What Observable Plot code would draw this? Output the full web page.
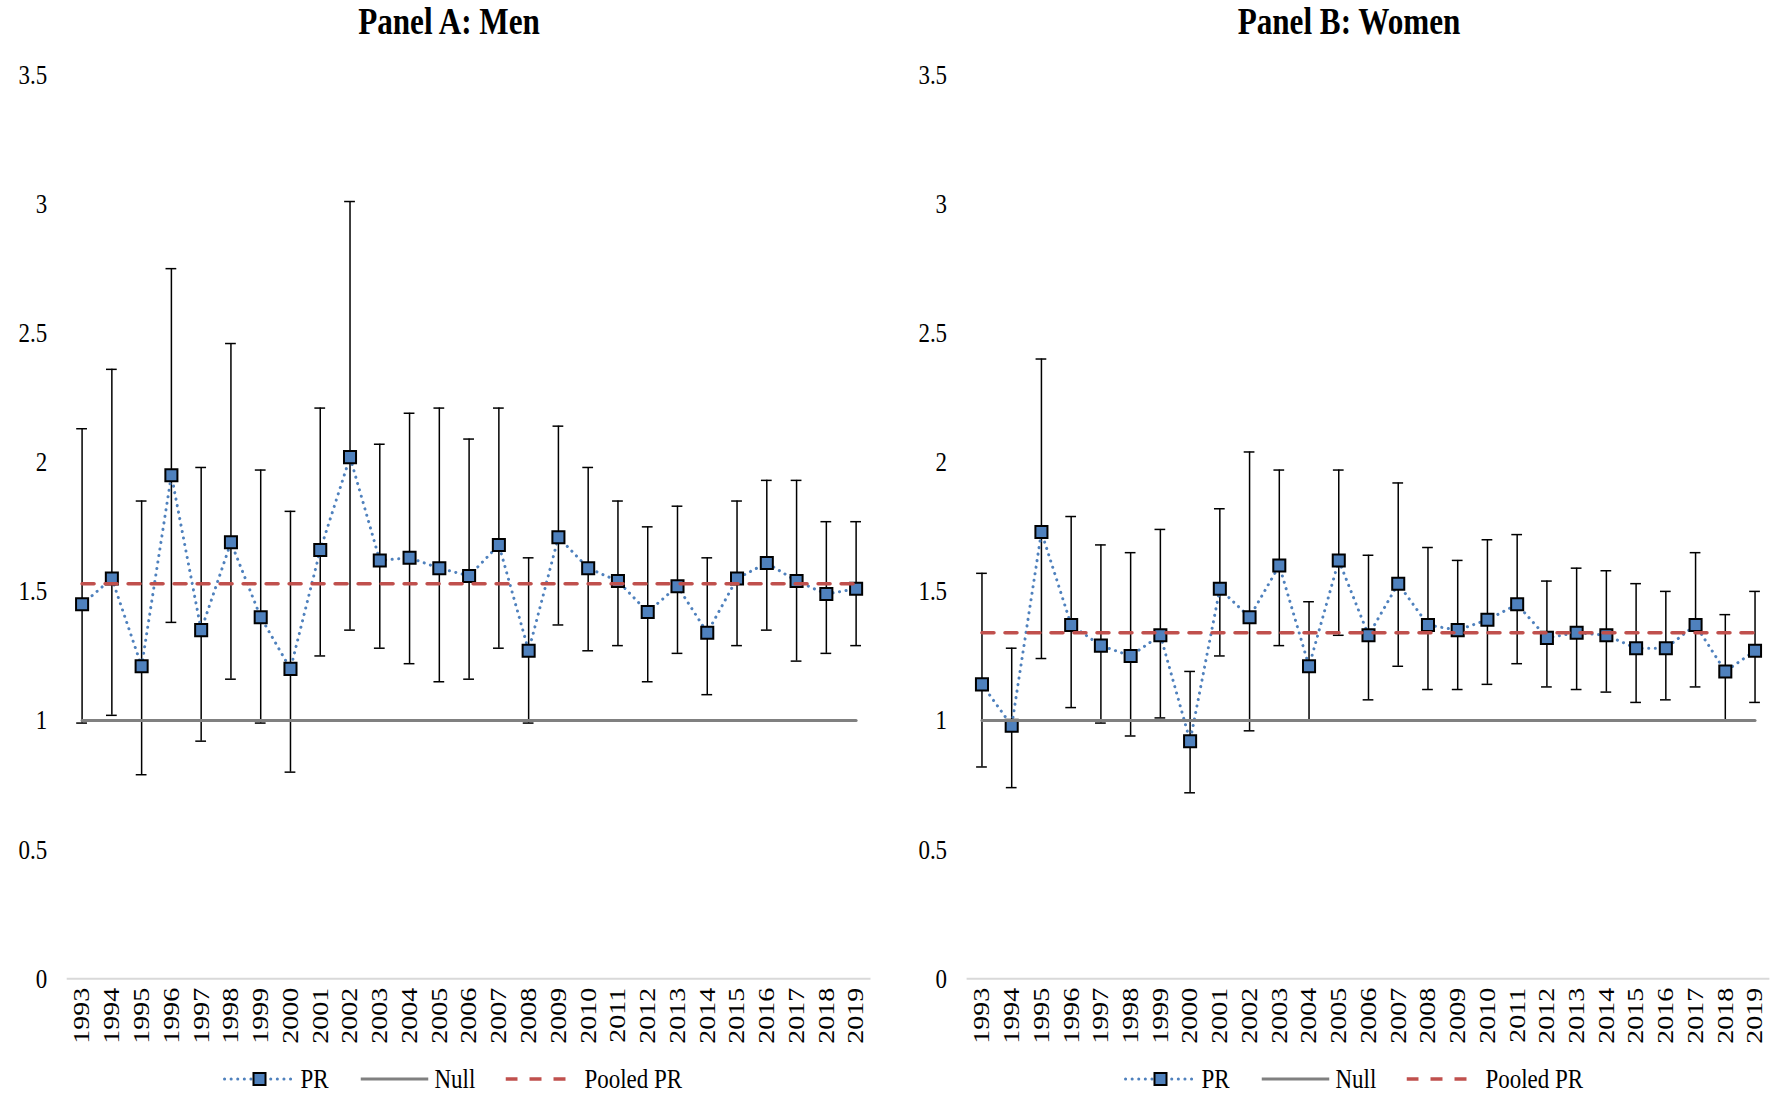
<!DOCTYPE html>
<html><head><meta charset="utf-8">
<script src="https://cdn.jsdelivr.net/npm/d3@7"></script>
<script src="https://cdn.jsdelivr.net/npm/@observablehq/plot@0.6"></script>
<style>
body{margin:0;background:#fff;font-family:"Liberation Serif","Times New Roman",serif;color:#000;}
#root{position:relative;width:1777px;height:1094px;overflow:hidden;}
.title{position:absolute;top:2px;font-weight:bold;font-size:38px;line-height:1;transform:translateX(-50%) scaleX(0.82);white-space:nowrap;}
.panel{position:absolute;top:40px;}
.legend{position:absolute;top:1063px;transform:translateX(-50%);display:flex;align-items:center;font-size:28px;line-height:32px;white-space:nowrap;}
.legend svg{display:block;}
.legend span{display:inline-block;transform:scaleX(0.82);transform-origin:left center;}
</style></head><body><div id="root"></div>
<script>
const years = [1993,1994,1995,1996,1997,1998,1999,2000,2001,2002,2003,2004,2005,2006,2007,2008,2009,2010,2011,2012,2013,2014,2015,2016,2017,2018,2019];

const menPR    = [1.45,1.55,1.21,1.95,1.35,1.69,1.40,1.20,1.66,2.02,1.62,1.63,1.59,1.56,1.68,1.27,1.71,1.59,1.54,1.42,1.52,1.34,1.55,1.61,1.54,1.49,1.51];
const menLower = [0.99,1.02,0.79,1.38,0.92,1.16,0.99,0.80,1.25,1.35,1.28,1.22,1.15,1.16,1.28,0.99,1.37,1.27,1.29,1.15,1.26,1.10,1.29,1.35,1.23,1.26,1.29];
const menUpper = [2.13,2.36,1.85,2.75,1.98,2.46,1.97,1.81,2.21,3.01,2.07,2.19,2.21,2.09,2.21,1.63,2.14,1.98,1.85,1.75,1.83,1.63,1.85,1.93,1.93,1.77,1.77];
const menPooled = 1.53;

const womenPR    = [1.14,0.98,1.73,1.37,1.29,1.25,1.33,0.92,1.51,1.40,1.60,1.21,1.62,1.33,1.53,1.37,1.35,1.39,1.45,1.32,1.34,1.33,1.28,1.28,1.37,1.19,1.27];
const womenLower = [0.82,0.74,1.24,1.05,0.99,0.94,1.01,0.72,1.25,0.96,1.29,1.00,1.33,1.08,1.21,1.12,1.12,1.14,1.22,1.13,1.12,1.11,1.07,1.08,1.13,1.00,1.07];
const womenUpper = [1.57,1.28,2.40,1.79,1.68,1.65,1.74,1.19,1.82,2.04,1.97,1.46,1.97,1.64,1.92,1.67,1.62,1.70,1.72,1.54,1.59,1.58,1.53,1.50,1.65,1.41,1.50];
const womenPooled = 1.34;

const nullValue = 1;
const yTicks = [0,0.5,1,1.5,2,2.5,3,3.5];
const panelTitles = ["Panel A: Men","Panel B: Women"];
const legendLabels = ["PR","Null","Pooled PR"];

const BLUE = "#4f81bd", RED = "#c0504d", GRAY = "#808080";
const FONT = "Liberation Serif, Times New Roman, serif";
const SQUEEZE = 0.82;

function makePanel(pr, lo, hi, pooled, m) {
  const rows = years.map((yr, i) => ({year: String(yr), pr: pr[i], lo: lo[i], hi: hi[i]}));
  const svg = Plot.plot({
    width: m.width, height: 1020,
    marginLeft: m.left, marginRight: m.right, marginTop: 34.5, marginBottom: 81.8,
    style: {fontFamily: FONT, fontSize: "28px", color: "#000", background: "#fff", overflow: "visible"},
    x: {type: "band", domain: rows.map(d => d.year), padding: 0, round: false},
    y: {domain: [0, 3.5]},
    marks: [
      Plot.ruleY([0], {stroke: "#d9d9d9", strokeWidth: 2}),
      Plot.axisY({ticks: yTicks, tickSize: 0, tickPadding: 20, tickFormat: d => String(d), fontSize: 28, fontFamily: FONT, label: null}),
      Plot.axisX({tickSize: 0, tickRotate: -90, tickPadding: 9, fontSize: 28, fontFamily: FONT, label: null}),
      Plot.ruleX(rows, {x: "year", y1: "lo", y2: "hi", stroke: "#000", strokeWidth: 1.5}),
      Plot.tickY(rows, {x: "year", y: "lo", stroke: "#000", strokeWidth: 1.5, insetLeft: 9.5, insetRight: 9.5}),
      Plot.tickY(rows, {x: "year", y: "hi", stroke: "#000", strokeWidth: 1.5, insetLeft: 9.5, insetRight: 9.5}),
      Plot.line(rows, {x: "year", y: "pr", stroke: BLUE, strokeWidth: 3, strokeDasharray: "0.1 6.5", strokeLinecap: "round"}),
      Plot.dot(rows, {x: "year", y: "pr", symbol: "square", r: 6.8, fill: BLUE, stroke: "#000", strokeWidth: 2}),
      Plot.line(rows, {x: "year", y: () => nullValue, stroke: GRAY, strokeWidth: 3}),
      Plot.line(rows, {x: "year", y: () => pooled, stroke: RED, strokeWidth: 3.5, strokeDasharray: "12 11"})
    ]
  });
  // narrow the glyphs horizontally, like the reference type
  svg.querySelectorAll("text").forEach(t => {
    const tr = t.getAttribute("transform");
    const m1 = tr && tr.match(/^\s*translate\(([^)]*)\)(.*)$/);
    if (m1) {
      t.setAttribute("transform", `translate(${m1[1]}) scale(${SQUEEZE},1)${m1[2]}`);
    } else {
      const x = +(t.getAttribute("x") || 0), y = +(t.getAttribute("y") || 0);
      t.setAttribute("transform", `translate(${x},${y}) scale(${SQUEEZE},1) translate(${-x},${-y})${tr ? " " + tr : ""}`);
    }
  });
  return svg;
}

const root = document.getElementById("root");

function addTitle(text, cx) {
  const d = document.createElement("div");
  d.className = "title"; d.textContent = text; d.style.left = cx + "px";
  root.appendChild(d);
}

function swatch(w, draw) {
  const ns = "http://www.w3.org/2000/svg";
  const s = document.createElementNS(ns, "svg");
  s.setAttribute("width", w); s.setAttribute("height", 20);
  s.innerHTML = draw;
  return s;
}

function addLegend(cx) {
  const lg = document.createElement("div");
  lg.className = "legend"; lg.style.left = cx + "px";
  const items = [
    {w: 74, draw: `<line x1="2" x2="72" y1="10" y2="10" stroke="${BLUE}" stroke-width="3" stroke-dasharray="0.1 6.5" stroke-linecap="round"/><rect x="31" y="4" width="12" height="12" fill="${BLUE}" stroke="#000" stroke-width="2"/>`, gap1: 4, gap2: 31, tw: 29},
    {w: 68, draw: `<line x1="0" x2="68" y1="10" y2="10" stroke="${GRAY}" stroke-width="3"/>`, gap1: 6, gap2: 29, tw: 42},
    {w: 62, draw: `<line x1="0" x2="62" y1="10" y2="10" stroke="${RED}" stroke-width="3.5" stroke-dasharray="12 12"/>`, gap1: 17, gap2: 0, tw: 99}
  ];
  items.forEach((it, i) => {
    const s = swatch(it.w, it.draw);
    lg.appendChild(s);
    const box = document.createElement("div");
    box.style.width = it.tw + "px";
    box.style.marginLeft = it.gap1 + "px";
    box.style.marginRight = it.gap2 + "px";
    box.style.overflow = "visible";
    const t = document.createElement("span");
    t.textContent = legendLabels[i];
    box.appendChild(t);
    lg.appendChild(box);
  });
  root.appendChild(lg);
}

const pA = makePanel(menPR, menLower, menUpper, menPooled, {width: 888, left: 66.7, right: 17.5});
pA.classList.add("panel"); pA.style.left = "0px";
root.appendChild(pA);

const pB = makePanel(womenPR, womenLower, womenUpper, womenPooled, {width: 889, left: 78.6, right: 7.6});
pB.classList.add("panel"); pB.style.left = "888px";
root.appendChild(pB);

addTitle(panelTitles[0], 449);
addTitle(panelTitles[1], 1349);
addLegend(453);
addLegend(1354);
</script></body></html>
